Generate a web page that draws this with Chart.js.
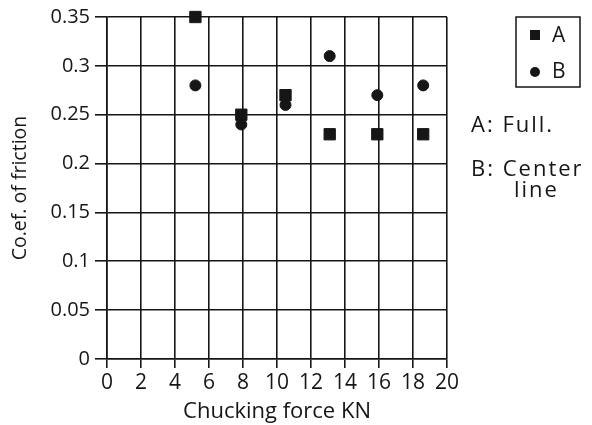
<!DOCTYPE html>
<html lang="en">
<head>
    <meta charset="UTF-8">
    <title>Chucking force vs friction</title>
    <script src="https://cdn.jsdelivr.net/npm/chart.js@4.4.1/dist/chart.umd.min.js"></script>
    <style>
        html, body { margin: 0; padding: 0; background: #fff; }
        #frictionChart { display: block; }
    </style>
</head>
<body>
<canvas id="frictionChart" width="592" height="425"></canvas>

<script>
    // data
    const forceA = [5.2, 7.9, 10.5, 13.1, 15.9, 18.6];
    const frictionA = [0.35, 0.25, 0.27, 0.23, 0.23, 0.23];
    const forceB = [5.2, 7.9, 10.5, 13.1, 15.9, 18.6];
    const frictionB = [0.28, 0.24, 0.26, 0.31, 0.27, 0.28];
    const seriesNames = ['A', 'B'];
    const seriesNotes = ['A: Full.', 'B: Center', 'line'];

    const ink = '#161616';
    const font = '"Open Sans", sans-serif';

    function toPoints(xs, ys) {
        return xs.map((x, i) => ({ x: x, y: ys[i] }));
    }

    // legend box + notes on the right
    const sideNotes = {
        id: 'sideNotes',
        afterDraw(chart) {
            const ctx = chart.ctx;
            ctx.save();
            ctx.strokeStyle = ink;
            ctx.lineWidth = 1.5;
            ctx.strokeRect(516, 17, 64, 70);

            ctx.fillStyle = ink;
            ctx.fillRect(530, 30, 10, 10);
            ctx.beginPath();
            ctx.arc(535, 72, 5, 0, Math.PI * 2);
            ctx.fill();

            ctx.font = '21px ' + font;
            ctx.textBaseline = 'middle';
            ctx.textAlign = 'left';
            ctx.fillText(seriesNames[0], 552, 36);
            ctx.fillText(seriesNames[1], 552, 72);

            ctx.font = '22px ' + font;
            ctx.letterSpacing = '2px';
            ctx.fillText(seriesNotes[0], 471, 126);
            ctx.fillText(seriesNotes[1], 471, 170);
            ctx.fillText(seriesNotes[2], 514, 191);
            ctx.restore();
        }
    };

    const frictionChart = new Chart(document.getElementById('frictionChart'), {
        type: 'scatter',
        data: {
            datasets: [{
                label: seriesNames[0],
                data: toPoints(forceA, frictionA),
                pointStyle: 'rect',
                pointRadius: 8,
                backgroundColor: ink,
                borderColor: ink,
                clip: false
            }, {
                label: seriesNames[1],
                data: toPoints(forceB, frictionB),
                pointStyle: 'circle',
                pointRadius: 5.5,
                backgroundColor: ink,
                borderColor: ink,
                clip: false
            }]
        },
        options: {
            responsive: false,
            animation: false,
            layout: {
                padding: { left: 0, right: 145, top: 17, bottom: 0 }
            },
            plugins: {
                legend: { display: false },
                tooltip: { enabled: false }
            },
            scales: {
                x: {
                    type: 'linear',
                    min: 0,
                    max: 20,
                    afterFit(scale) { scale.height = 66; },
                    ticks: {
                        stepSize: 2,
                        color: ink,
                        padding: 2,
                        font: { family: font, size: 21 }
                    },
                    grid: {
                        color: ink,
                        lineWidth: 1.6,
                        tickLength: 9
                    },
                    border: { color: ink, width: 1.6 },
                    title: {
                        display: true,
                        text: 'Chucking force KN',
                        color: ink,
                        padding: { top: 0, bottom: 0 },
                        font: { family: font, size: 22 }
                    }
                },
                y: {
                    min: 0,
                    max: 0.35,
                    afterFit(scale) { scale.width = 107; },
                    ticks: {
                        stepSize: 0.05,
                        color: ink,
                        padding: 5,
                        font: { family: font, size: 20 },
                        callback: v => String(Number(v.toFixed(2)))
                    },
                    grid: {
                        color: ink,
                        lineWidth: 1.6,
                        tickLength: 12
                    },
                    border: { color: ink, width: 1.6 },
                    title: {
                        display: true,
                        text: 'Co.ef. of friction',
                        color: ink,
                        padding: { top: 9, bottom: 0 },
                        font: { family: font, size: 19.5 }
                    }
                }
            }
        },
        plugins: [sideNotes]
    });
</script>
</body>
</html>
